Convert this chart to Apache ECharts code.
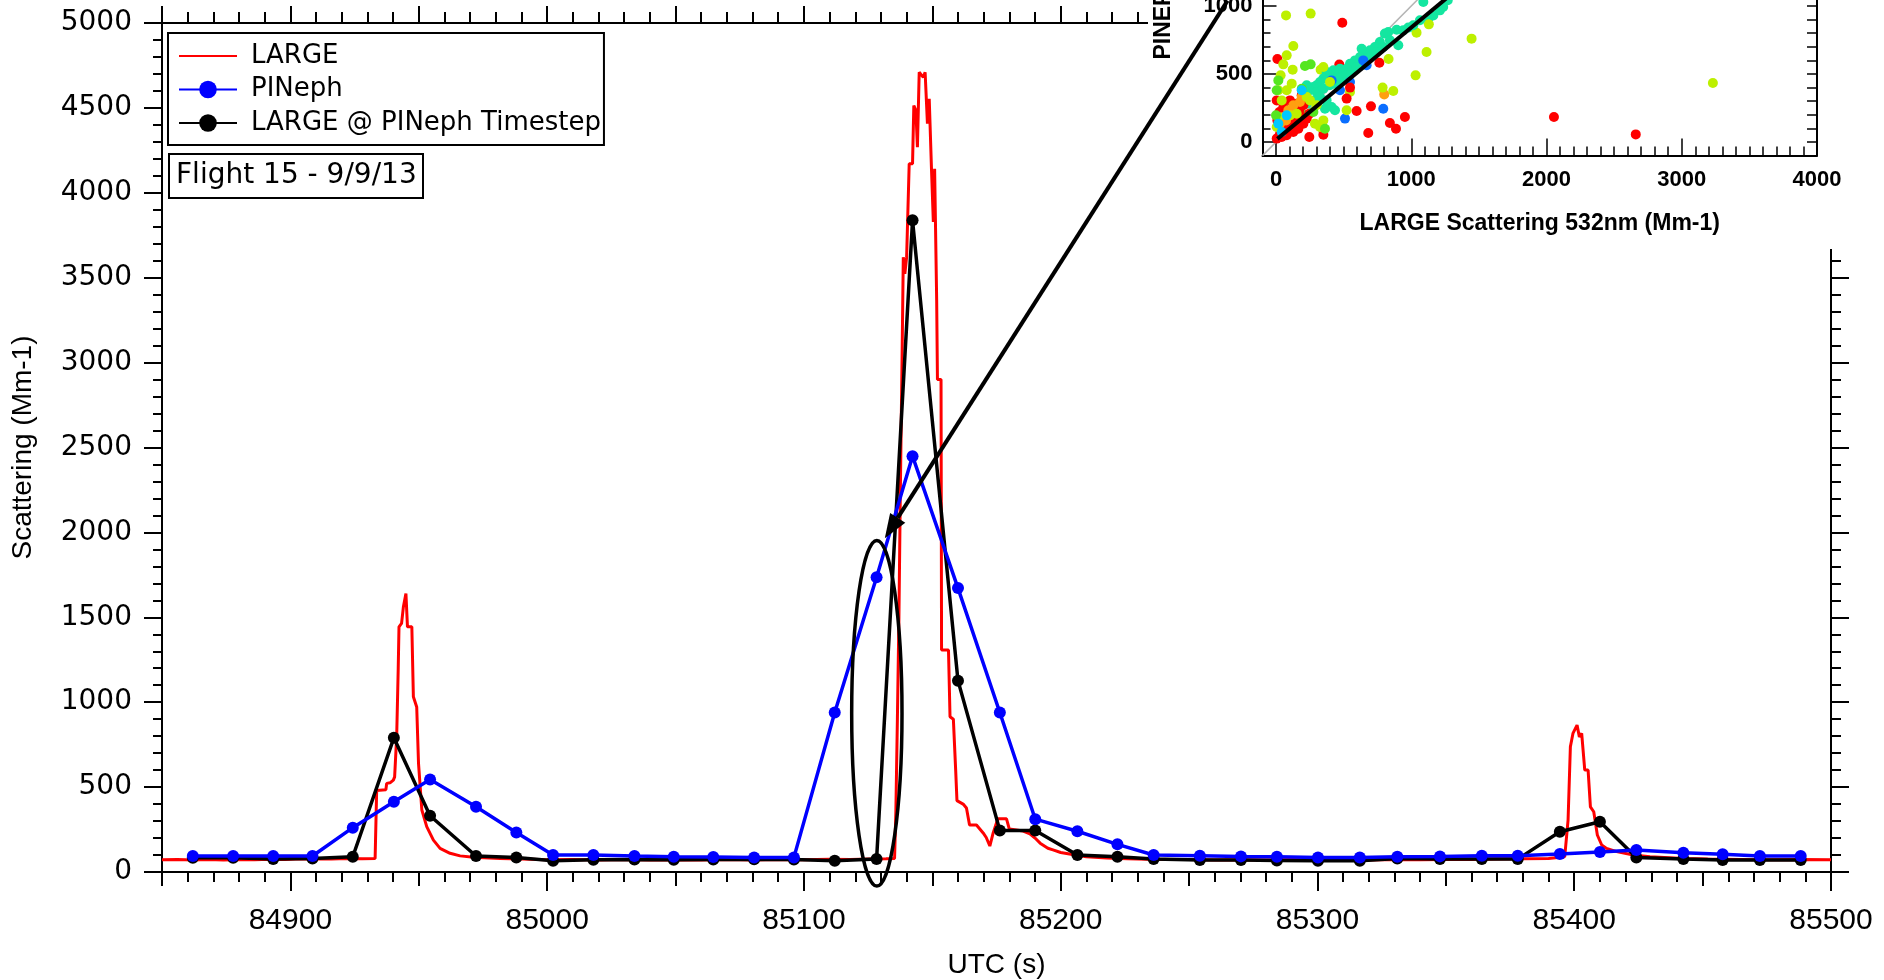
<!DOCTYPE html>
<html>
<head>
<meta charset="utf-8">
<script src="https://cdn.jsdelivr.net/npm/echarts@6/dist/echarts.min.js"></script>
<style>
html,body{margin:0;padding:0;background:#ffffff;}
#chart{width:1884px;height:980px;}
</style>
</head>
<body>
<div id="chart"></div>
<script>
// ---------- LARGE (1 Hz) ----------
const largeT = [84850,84856,84862,84868,84874,84880,84886,84892,84898,84904,84910,84916,84922,84928,84933,
  84933.6,84937.2,84937.5,84938.8,84940.1,84940.6,84941.4,84942,84942.3,84943.3,84944,84945,84945.6,84947.3,84947.9,
  84949.2,84949.9,84951.2,84953.1,84955.7,84958.3,84962.2,84966.1,84971.3,84981.7,84990,85000,85010,85020,85030,85040,
  85050,85060,85070,85080,85090,85100,85110,85118,85126,85132,85135.3,85135.8,85136.4,85137,85137.6,85138.2,85138.7,
  85139.3,85140,85141,85142.3,85142.8,85143.6,85144.2,85144.9,85146.5,85147.2,85147.8,85148.1,85148.8,85149.7,85150.4,
  85150.9,85151.7,85152,85153.4,85153.6,85156.3,85156.9,85158.2,85159.1,85159.6,85162,85163.3,85164.5,85167.2,85169.8,
  85171,85172.4,85173.7,85175.5,85178.9,85180,85185.4,85188,85190,85192,85195,85197,85200,85204,85210,85218,85226,85234,
  85242,85250,85260,85270,85280,85290,85300,85310,85320,85330,85340,85350,85360,85370,85380,85390,85396.3,85397.6,
  85398.5,85399.5,85401.1,85402,85402.9,85403.6,85404.1,85405.4,85406.3,85407.6,85409,85410.7,85412.6,85416.5,85423,
  85429.5,85442.5,85452,85464.6,85475,85488,85500];
const largeV = [72,74,71,73,70,74,72,75,73,78,76,77,79,78,79,
  480,485,522,525,541,560,800,1200,1444,1464,1560,1640,1444,1444,1032,
  972,640,365,267,188,139,110,95,87,80,76,72,74,71,73,70,
  72,70,73,71,74,72,75,73,76,78,80,350,900,1500,2300,3000,3621,
  3523,3621,4171,4171,4514,4485,4269,4710,4680,4710,4700,4407,4554,4131,3828,
  4142,3367,2901,2901,1307,1307,914,900,600,420,400,377,277,277,230,
  203,153,230,313,313,253,241,225,200,170,140,130,115,105,90,82,78,75,
  73,74,71,72,70,73,70,72,71,73,72,74,73,76,78,80,90,306,
  738,816,865,796,816,810,600,600,384,355,218,159,139,120,100,
  90,80,76,74,72,73,72];

// ---------- PINeph timestamps and values ----------
const pinephT = [84862,84877.7,84893.3,84908.6,84924.3,84940.3,84954.4,84972.3,84988,85002.3,85018,85034,85049.3,
  85064.7,85080.6,85096.1,85112,85128.3,85142.3,85160,85176.3,85190.1,85206.5,85222.1,85236.2,85254.2,85270.2,
  85284.2,85300.2,85316.5,85331.1,85347.7,85364,85378,85394.4,85410,85424.2,85442.5,85457.8,85472.3,85488.2];
const pinephV = [94,94,94,94,261,414,545,384,233,100,100,94,90,88,86,86,939,1736,2449,1672,939,311,240,163,100,96,92,
  90,86,86,90,92,96,96,106,118,129,114,104,94,94];
const largeAtPinephV = [84,84,76,80,90,790,331,94,86,66,72,74,72,73,75,74,66,76,3838,1127,245,245,100,90,76,70,70,68,
  66,66,80,76,76,76,237,296,86,76,70,70,70];

// ---------- tick labels ----------
const xTickLabels = [84900,85000,85100,85200,85300,85400,85500];
const yTickLabels = [0,500,1000,1500,2000,2500,3000,3500,4000,4500,5000];

// ---------- inset scatter (LARGE vs PINeph) ----------
const insetColors = ['#ff0000','#ffa010','#bdf000','#55e620','#14e6a0','#00c8ff','#0a6eff'];
const insetX = [1089,1270,1126,1130,1039,1446,1113,1032,490,74,256,128,79,10,54,34,123,214,256,330,468,764,832,
  830,892,904,805,768,731,695,658,633,621,584,547,522,498,473,448,424,399,374,350,325,300,276,251,227,202,300,350,399,
  436,461,485,522,559,596,645,670,707,744,793,842,941,978,1015,1064,1163,1212,1236,362,411,436,374,325,276,227,
  473,547,645,670,411,510,793,
  399,522,547,350,
  350,227,180,
  5,25,10,42,67,91,116,140,172,202,153,103,54,30,5,42,79,128,165,202,227,246,190,133,98,246,350,547,522,596,702,842,887,682,953,214,190,158,
  54,91,128,190,30,74,800,177,
  5,17,42,103,153,227,251,300,288,325,350,17,79,116,867,788,
  5,0,362,17,190,276,
  190,17,42,79,
  2055,2660,3230];
const insetY = [1029,1042,907,865,804,760,662,490,877,931,944,706,637,610,571,490,532,559,571,532,569,583,610,
  809,826,711,797,735,699,674,650,686,625,600,576,539,515,539,502,527,490,515,466,441,417,404,380,417,392,368,392,417,
  429,453,473,490,515,551,576,613,637,662,699,748,821,841,858,895,931,968,993,245,257,233,306,331,306,282,
  380,441,600,564,453,172,245,
  441,233,368,551,
  86,200,150,
  306,221,159,110,74,110,159,196,233,270,282,306,257,61,25,37,49,74,98,135,172,208,184,135,81,37,54,400,319,228,262,140,98,66,184,306,343,262,
  184,233,270,331,135,159,350,294,
  110,184,306,196,208,331,306,270,135,110,159,380,380,429,375,400,
  380,196,98,453,392,221,
  380,135,74,196,
  184,56,434];
const insetC = [4,4,4,2,2,2,2,2,0,2,2,2,2,0,2,2,2,3,3,2,0,0,2,
  4,4,4,4,4,4,4,4,4,4,4,4,4,4,4,4,4,4,4,4,4,4,4,4,4,4,4,4,4,
  4,4,4,4,4,4,4,4,4,4,4,4,4,4,4,4,4,4,4,4,4,4,4,4,4,4,
  6,6,6,6,6,6,6,
  2,2,2,2,
  3,3,3,
  0,0,0,0,0,0,0,0,0,0,0,0,0,0,0,0,0,0,0,0,0,0,0,0,0,0,0,0,0,0,0,0,0,0,0,0,0,0,
  1,1,1,1,1,1,1,1,
  2,2,2,2,2,2,2,2,2,2,2,2,2,2,2,2,
  3,3,3,3,3,3,
  5,5,5,5,
  0,0,2];
const insetXTicks = [0,1000,2000,3000,4000];
const insetYTicks = [0,500,1000,1500,2000,2500,3000,3500,4000];
const oneToOneX = [-100,1150];
const oneToOneY = [-100,1150];
const fitX = [10,1300];
const fitY = [23,1090];

// ---------- annotations (main-axis data coordinates) ----------
const ellipseCenter = [85128.4, 935];
const ellipseHalf = [9.8, 1018];
const arrowStart = [85265, 5132];
const arrowTip = [85131.5, 1966];

const chart = echarts.init(document.getElementById('chart'), null, {renderer: 'canvas'});

const BLK = '#000000';
const axLine = {show: true, onZero: false, lineStyle: {color: BLK, width: 2}};
const tk = (len, inside, w) => ({show: true, inside: !!inside, length: len, lineStyle: {color: BLK, width: w || 2}});
const mt = (len, w) => ({show: true, splitNumber: 5, length: len, lineStyle: {color: BLK, width: w || 2}});

const option = {
  animation: false,
  backgroundColor: '#ffffff',
  title: {
    text: 'Flight 15 - 9/9/13',
    left: 169, top: 154,
    padding: [5, 7, 5, 7],
    borderColor: BLK, borderWidth: 2,
    textStyle: {fontFamily: 'DejaVu Sans', fontSize: 28, fontWeight: 'normal', color: BLK, lineHeight: 34}
  },
  legend: {
    orient: 'vertical', left: 168, top: 33,
    padding: [8, 3, 7, 10], itemGap: 3.5, itemWidth: 58, itemHeight: 22,
    borderColor: BLK, borderWidth: 2, selectedMode: false,
    textStyle: {fontFamily: 'DejaVu Sans', fontSize: 26, color: BLK, lineHeight: 30, padding: [0, 0, 0, 9]},
    data: [{name: 'LARGE', itemStyle: {opacity: 0}}, {name: 'PINeph'}, {name: 'LARGE @ PINeph Timestep'}]
  },
  grid: [
    {left: 162, top: 23, width: 1669, height: 849, containLabel: false, outerBoundsMode: 'none'},
    {left: 1262.5, top: -402, width: 554.5, height: 557.6, containLabel: false, outerBoundsMode: 'none'}
  ],
  xAxis: [
    {gridIndex: 0, type: 'value', position: 'bottom', min: 84850, max: 85500, interval: 50,
      axisLine: axLine, axisTick: tk(14), minorTick: mt(10), splitLine: {show: false}, minorSplitLine: {show: false},
      axisLabel: {show: true, margin: 34, fontFamily: 'Liberation Sans', fontSize: 30, color: BLK,
        formatter: v => xTickLabels.indexOf(v) >= 0 ? String(v) : ''},
      name: 'UTC (s)', nameLocation: 'middle', nameGap: 79,
      nameTextStyle: {fontFamily: 'Liberation Sans', fontSize: 28, color: BLK}},
    {gridIndex: 0, type: 'value', position: 'bottom', min: 84850, max: 85500,
      axisLine: {show: false, onZero: false}, axisTick: Object.assign(tk(19), {customValues: xTickLabels}),
      axisLabel: {show: false}, splitLine: {show: false}},
    {gridIndex: 0, type: 'value', position: 'top', min: 84850, max: 85500, interval: 50,
      axisLine: axLine, axisTick: tk(17), minorTick: mt(11), splitLine: {show: false}, minorSplitLine: {show: false},
      axisLabel: {show: false}},
    {gridIndex: 1, type: 'value', position: 'bottom', min: -100, max: 4000, interval: 100, z: 10,
      axisLine: axLine, axisTick: tk(9, true, 1.5), splitLine: {show: false},
      axisLabel: {show: true, margin: 13, fontFamily: 'Liberation Sans', fontWeight: 'bold', fontSize: 22, color: BLK,
        formatter: v => insetXTicks.indexOf(v) >= 0 ? String(v) : ''},
      name: 'LARGE Scattering 532nm (Mm-1)', nameLocation: 'middle', nameGap: 57,
      nameTextStyle: {fontFamily: 'Liberation Sans', fontWeight: 'bold', fontSize: 23, color: BLK}},
    {gridIndex: 1, type: 'value', position: 'bottom', min: -100, max: 4000, z: 10,
      axisLine: {show: false, onZero: false}, axisTick: Object.assign(tk(17, true, 1.5), {customValues: insetXTicks}),
      axisLabel: {show: false}, splitLine: {show: false}}
  ],
  yAxis: [
    {gridIndex: 0, type: 'value', position: 'left', min: 0, max: 5000, interval: 500,
      axisLine: axLine, axisTick: tk(18), minorTick: mt(9), splitLine: {show: false}, minorSplitLine: {show: false},
      axisLabel: {show: true, margin: 30, fontFamily: 'DejaVu Sans', fontSize: 28, color: BLK,
        formatter: v => yTickLabels.indexOf(v) >= 0 ? String(v) : ''},
      name: 'Scattering (Mm-1)', nameLocation: 'middle', nameGap: 125,
      nameTextStyle: {fontFamily: 'Liberation Sans', fontSize: 28, color: BLK}},
    {gridIndex: 0, type: 'value', position: 'right', min: 0, max: 5000, interval: 500,
      axisLine: axLine, axisTick: tk(18), minorTick: mt(10), splitLine: {show: false}, minorSplitLine: {show: false},
      axisLabel: {show: false}},
    {gridIndex: 1, type: 'value', position: 'left', min: -100, max: 4000, interval: 100, z: 10,
      axisLine: axLine, axisTick: tk(8, true, 1.5), splitLine: {show: false},
      axisLabel: {show: true, margin: 10, fontFamily: 'Liberation Sans', fontWeight: 'bold', fontSize: 22, color: BLK,
        formatter: v => insetYTicks.indexOf(v) >= 0 ? String(v) : ''},
      name: 'PINEPH Scattering 532nm (Mm-1)', nameLocation: 'middle', nameGap: 87,
      nameTextStyle: {fontFamily: 'Liberation Sans', fontWeight: 'bold', fontSize: 23, color: BLK}},
    {gridIndex: 1, type: 'value', position: 'left', min: -100, max: 4000, z: 10,
      axisLine: {show: false, onZero: false}, axisTick: Object.assign(tk(14, true, 1.5), {customValues: insetYTicks}),
      axisLabel: {show: false}, splitLine: {show: false}},
    {gridIndex: 1, type: 'value', position: 'right', min: -100, max: 4000, interval: 100, z: 10,
      axisLine: axLine, axisTick: tk(10, true, 1.5), splitLine: {show: false}, axisLabel: {show: false}}
  ],
  series: [
    {name: 'LARGE', type: 'line', xAxisIndex: 0, yAxisIndex: 0, symbol: 'none', z: 2,
      data: largeT.map((t, i) => [t, largeV[i]]),
      lineStyle: {color: '#ff0000', width: 3}, itemStyle: {color: '#ff0000'}},
    {name: 'LARGE @ PINeph Timestep', type: 'line', xAxisIndex: 0, yAxisIndex: 0, symbol: 'circle', symbolSize: 12, z: 3,
      data: pinephT.map((t, i) => [t, largeAtPinephV[i]]),
      lineStyle: {color: BLK, width: 3.5}, itemStyle: {color: BLK}},
    {name: 'PINeph', type: 'line', xAxisIndex: 0, yAxisIndex: 0, symbol: 'circle', symbolSize: 12, z: 4,
      data: pinephT.map((t, i) => [t, pinephV[i]]),
      lineStyle: {color: '#0000ff', width: 3.5}, itemStyle: {color: '#0000ff'}},
    {name: 'one-to-one', type: 'line', xAxisIndex: 3, yAxisIndex: 2, symbol: 'none', z: 10, silent: true,
      data: oneToOneX.map((x, i) => [x, oneToOneY[i]]),
      lineStyle: {color: '#b4b4b4', width: 1.5}},
    {name: 'inset', type: 'scatter', xAxisIndex: 3, yAxisIndex: 2, symbolSize: 10, z: 11,
      data: insetX.map((x, i) => ({value: [x, insetY[i]], itemStyle: {color: insetColors[insetC[i]], opacity: 1}}))},
    {name: 'fit', type: 'line', xAxisIndex: 3, yAxisIndex: 2, symbol: 'none', z: 12, silent: true,
      data: fitX.map((x, i) => [x, fitY[i]]),
      lineStyle: {color: BLK, width: 4}}
  ]
};

chart.setOption(option);

// annotations positioned via the main axes
const P = p => chart.convertToPixel({gridIndex: 0}, p);
const c = P(ellipseCenter);
const cTop = P([ellipseCenter[0] + ellipseHalf[0], ellipseCenter[1] + ellipseHalf[1]]);
const rx = Math.abs(cTop[0] - c[0]);
const ry = Math.abs(c[1] - cTop[1]);
const s = P(arrowStart);
const tip = P(arrowTip);
const dx = s[0] - tip[0], dy = s[1] - tip[1];
const L = Math.sqrt(dx * dx + dy * dy);
const ux = dx / L, uy = dy / L;
const headLen = 24, headHalf = 9;
const bx = tip[0] + ux * headLen, by = tip[1] + uy * headLen;
const nx = -uy, ny = ux;

chart.setOption({
  graphic: {
    elements: [
      {type: 'rect', id: 'insetBg', z: 5, silent: true,
        shape: {x: 1148, y: 0, width: 736, height: 249}, style: {fill: '#ffffff'}},
      {type: 'ellipse', id: 'ell', z: 20, silent: true,
        shape: {cx: c[0], cy: c[1], rx: rx, ry: ry},
        style: {fill: 'none', stroke: BLK, lineWidth: 3.5}},
      {type: 'line', id: 'arrowLine', z: 20, silent: true,
        shape: {x1: s[0], y1: s[1], x2: bx, y2: by},
        style: {stroke: BLK, lineWidth: 4}},
      {type: 'polygon', id: 'arrowHead', z: 20, silent: true,
        shape: {points: [[tip[0], tip[1]], [bx + nx * headHalf, by + ny * headHalf], [bx - nx * headHalf, by - ny * headHalf]]},
        style: {fill: BLK}}
    ]
  }
});
</script>
</body>
</html>
